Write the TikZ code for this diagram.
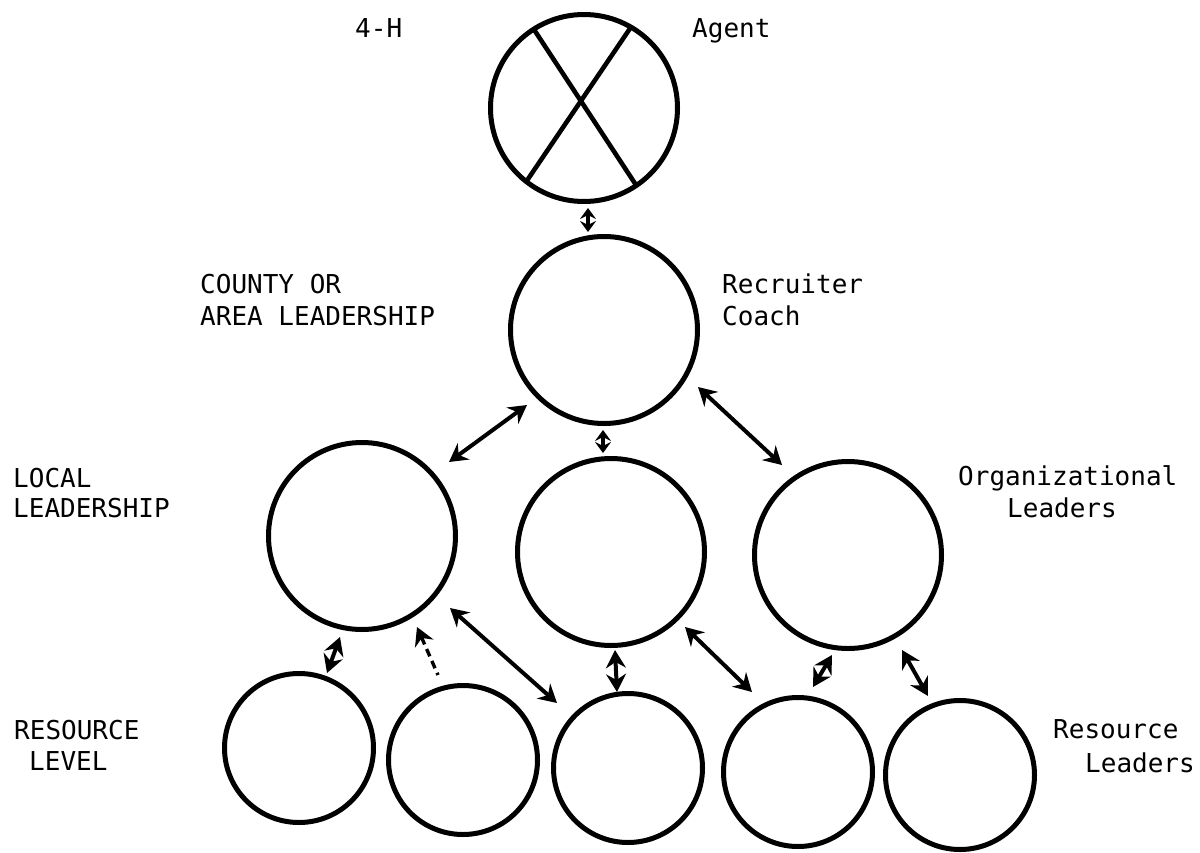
\documentclass[tikz,border=0pt]{standalone}
\usepackage{fontspec}
\setmainfont{DejaVu Sans Mono}
\usetikzlibrary{arrows.meta,calc}
\begin{document}
\begin{tikzpicture}[x=1pt,y=-1pt,
  bub/.style={circle,draw,line width=5pt,inner sep=0pt},
  big/.style={bub,minimum size=187pt},
  small/.style={bub,minimum size=149pt},
  con/.style={line width=4pt,{Stealth[length=18pt,width=20pt,inset=6pt]}-{Stealth[length=18pt,width=20pt,inset=6pt]}},
  scon/.style={line width=4pt,{Stealth[length=11pt,width=16pt,inset=4pt]}-{Stealth[length=11pt,width=16pt,inset=4pt]}},
  dcon/.style={line width=3.4pt,dash pattern=on 8pt off 5pt,{Stealth[length=18pt,width=20pt,inset=6pt]}-},
  cross/.style={line width=4.6pt},
  lab/.style={anchor=base west,inner sep=0pt,font=\fontsize{26}{30}\selectfont}]
\useasboundingbox (0,0) rectangle (1200,852);

% circles
\node[big] (agent) at (584,108) {};
\node[big] (rec) at (604,330) {};
\node[big] (L) at (362,536) {};
\node[big] (M) at (611,552) {};
\node[big] (R) at (848,555) {};
\node[small] (B1) at (299,748) {};
\node[small] (B2) at (463,760) {};
\node[small] (B3) at (628,768) {};
\node[small] (B4) at (798,772) {};
\node[small] (B5) at (960,775) {};

% cross in agent circle
\draw[cross] ($(agent)+(-51,-80)$) -- ($(agent)+(52,77)$);
\draw[cross] ($(agent)+(47,-81)$) -- ($(agent)+(-58,74)$);

% connectors
\draw[scon] ($(agent)+(4,100)$) -- ($(rec)+(-16,-98)$);
\draw[con] ($(rec)+(-77,75)$) -- ($(L)+(87,-74)$);
\draw[scon] ($(rec)+(-1,100)$) -- ($(M)+(-8,-99)$);
\draw[con] ($(rec)+(94,57)$) -- ($(R)+(-66,-90)$);
\draw[con] ($(L)+(-22,101)$) -- ($(B1)+(28,-75)$);
\draw[dcon] ($(L)+(55,91)$) -- ($(B2)+(-25,-85)$);
\draw[con] ($(L)+(88,72)$) -- ($(B3)+(-71,-65)$);
\draw[con] ($(M)+(4,98)$) -- ($(B3)+(-11,-76)$);
\draw[con] ($(M)+(74,75)$) -- ($(B4)+(-46,-80)$);
\draw[con] ($(R)+(-16,100)$) -- ($(B4)+(15,-85)$);
\draw[con] ($(R)+(54,95)$) -- ($(B5)+(-32,-79)$);

% labels
\node[lab] (t4h) at (355,37) {4-H};
\node[lab] (tagent) at (692,37) {Agent};
\node[lab] (tcounty) at (200,293) {COUNTY OR};
\node[lab] (tarea) at (200,325) {AREA LEADERSHIP};
\node[lab] (trec) at (722,293) {Recruiter};
\node[lab] (tcoach) at (722,325) {Coach};
\node[lab] (tlocal) at (13,487) {LOCAL};
\node[lab] (tlead) at (13,517) {LEADERSHIP};
\node[lab] (torg) at (958,485) {Organizational};
\node[lab] (tleaders) at (1007,517) {Leaders};
\node[lab] (tres) at (14,739) {RESOURCE};
\node[lab] (tlevel) at (29,770) {LEVEL};
\node[lab] (tresl) at (1053,738) {Resource};
\node[lab] (tresleaders) at (1085,772) {Leaders};
\end{tikzpicture}
\end{document}
